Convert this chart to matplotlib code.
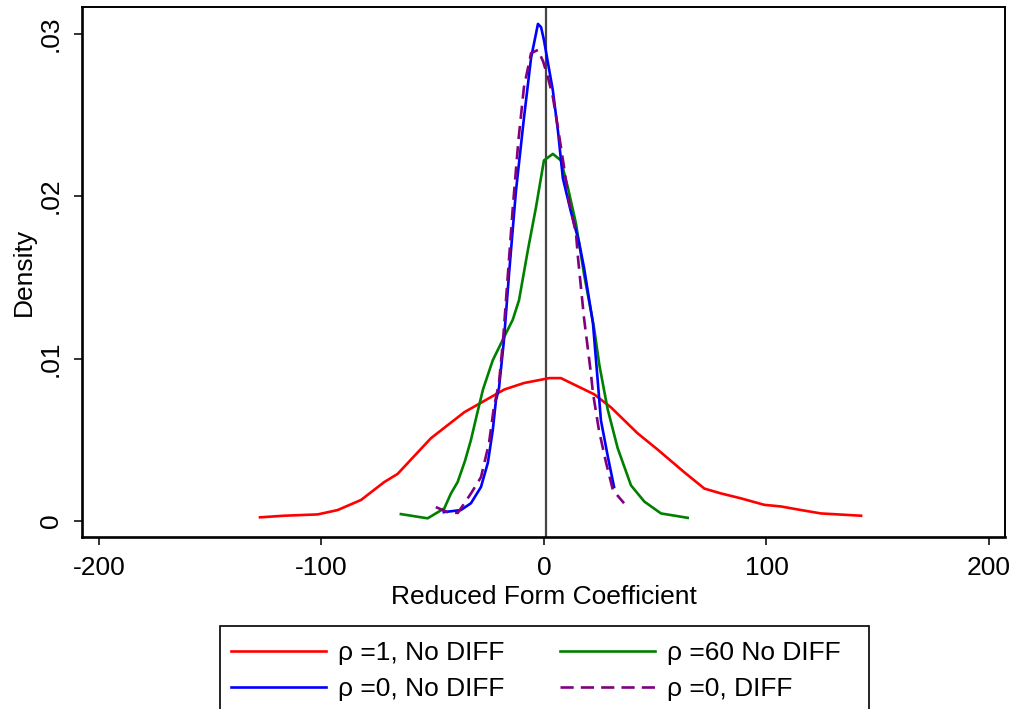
import matplotlib
matplotlib.use('Agg')
import matplotlib.pyplot as plt
from matplotlib.patches import Rectangle

plt.rcParams['font.family'] = ['Liberation Sans', 'DejaVu Sans']
plt.rcParams['axes.unicode_minus'] = False

# values (coefficient, density)
red_x = [-127.6, -116.8, -101.7, -92.7, -82.2, -71.8, -65.8, -58.3, -50.8, -43.3,
         -35.8, -26.8, -17.8, -8.9, 2.4, 7.6, 16.6, 22.6, 30.1, 42.1, 51.1, 63.1,
         72.1, 79.6, 88.5, 99.0, 106.5, 115.5, 124.5, 142.5]
red_y = [0.00023, 0.00033, 0.00041, 0.00068, 0.0013, 0.0024, 0.0029, 0.0040, 0.0051,
         0.0059, 0.0067, 0.0074, 0.0081, 0.0085, 0.0088, 0.0088, 0.0082, 0.0078,
         0.0070, 0.0054, 0.0044, 0.0030, 0.0020, 0.0017, 0.0014, 0.0010, 0.0009,
         0.00068, 0.00047, 0.00033]

green_x = [-64.3, -52.3, -44.8, -41.8, -38.8, -35.5, -32.8, -29.7, -27.4, -23.0, -18.0,
           -14.0, -11.2, -7.2, -3.6, 0.0, 4.0, 7.6, 10.8, 14.4, 18.0, 22.5, 24.9, 28.6,
           33.1, 39.1, 45.1, 52.6, 64.6]
green_y = [0.00043, 0.00017, 0.00078, 0.0017, 0.0024, 0.0037, 0.0050, 0.0068, 0.0081,
           0.0099, 0.0113, 0.0124, 0.0136, 0.0167, 0.0193, 0.0222, 0.0226, 0.0222,
           0.0205, 0.0183, 0.0152, 0.0119, 0.0096, 0.0069, 0.0045, 0.0022, 0.0012,
           0.00047, 0.0002]

blue_x = [-45.0, -37.3, -32.8, -28.3, -25.2, -23.0, -21.6, -20.2, -18.0, -15.7, -12.6,
          -9.0, -5.8, -2.7, -1.3, 0.0, 1.8, 4.0, 6.3, 8.5, 12.0, 15.7, 18.0, 22.0, 24.3,
          25.6, 28.8, 31.5]
blue_y = [0.00055, 0.00068, 0.0011, 0.0021, 0.0036, 0.0056, 0.0074, 0.0082, 0.0111,
          0.0152, 0.0203, 0.0248, 0.0285, 0.0306, 0.0304, 0.0296, 0.0282, 0.0265,
          0.0240, 0.0211, 0.0191, 0.0172, 0.0156, 0.0122, 0.0084, 0.0062, 0.0039,
          0.0021]

purple_x = [-48.6, -43.2, -38.7, -32.8, -28.3, -24.7, -22.5, -20.2, -18.4, -16.2, -14.0,
            -11.5, -9.0, -5.8, -2.7, -0.4, 1.8, 4.0, 6.3, 9.0, 11.2, 14.4, 15.3, 18.0,
            21.1, 22.0, 24.7, 27.9, 31.0, 36.0]
purple_y = [0.00086, 0.00055, 0.0005, 0.0017, 0.0027, 0.0048, 0.0070, 0.0085, 0.0111,
            0.0152, 0.0193, 0.0234, 0.0267, 0.0288, 0.0290, 0.0283, 0.0273, 0.0261,
            0.0242, 0.0218, 0.0197, 0.0177, 0.0162, 0.0125, 0.0091, 0.0079, 0.0056,
            0.0036, 0.0019, 0.0011]

labels = ['ρ =1, No DIFF', 'ρ =60 No DIFF', 'ρ =0, No DIFF', 'ρ =0, DIFF']
x_ticks = [-200, -100, 0, 100, 200]
x_ticklabels = ['-200', '-100', '0', '100', '200']
y_ticks = [0, 0.01, 0.02, 0.03]
y_ticklabels = ['0', '.01', '.02', '.03']

fig = plt.figure(figsize=(10.11, 7.09), dpi=100)
ax = fig.add_axes([0.0811, 0.2419, 0.9130, 0.7482])

ax.axvline(1, color='#444444', lw=1.6, zorder=1)
l1, = ax.plot(red_x, red_y, color='#ff0000', lw=1.9)
l2, = ax.plot(green_x, green_y, color='#008000', lw=1.9)
l3, = ax.plot(blue_x, blue_y, color='#0000ff', lw=1.9)
l4, = ax.plot(purple_x, purple_y, color='#800080', lw=1.9, dashes=(5.0, 2.7))

ax.set_xlim(-207.6, 207.2)
ax.set_ylim(-0.00101, 0.03164)
ax.set_xticks(x_ticks)
ax.set_xticklabels(x_ticklabels)
ax.set_yticks(y_ticks)
ax.set_yticklabels(y_ticklabels, rotation=90, va='center')
ax.tick_params(labelsize=19, length=6, width=1.4, pad=7, color='#333333')
ax.tick_params(axis='y', pad=8)

for s in ['left', 'bottom']:
    ax.spines[s].set_linewidth(1.9)
for s in ['top', 'right']:
    ax.spines[s].set_linewidth(1.4)

ax.set_xlabel('Reduced Form Coefficient', fontsize=19, labelpad=4)
ax.set_ylabel('Density', fontsize=19, labelpad=2)

# legend box runs off the bottom of the image like in the original
fig.add_artist(Rectangle((220 / 1011, -0.05), (869 - 220) / 1011, 0.05 + 1 - 626 / 709,
                         transform=fig.transFigure, fill=False, edgecolor='black',
                         lw=1.2))
leg = fig.legend([l1, l3, l2, l4], [labels[0], labels[2], labels[1], labels[3]],
                 ncol=2, loc='upper left',
                 bbox_to_anchor=(218 / 1011, 1 - 628 / 709), fontsize=19,
                 frameon=False, handlelength=3.6, handletextpad=0.45,
                 columnspacing=2.1, labelspacing=0.45, borderpad=0.5,
                 borderaxespad=0)

fig.savefig('out.png', dpi=100)
